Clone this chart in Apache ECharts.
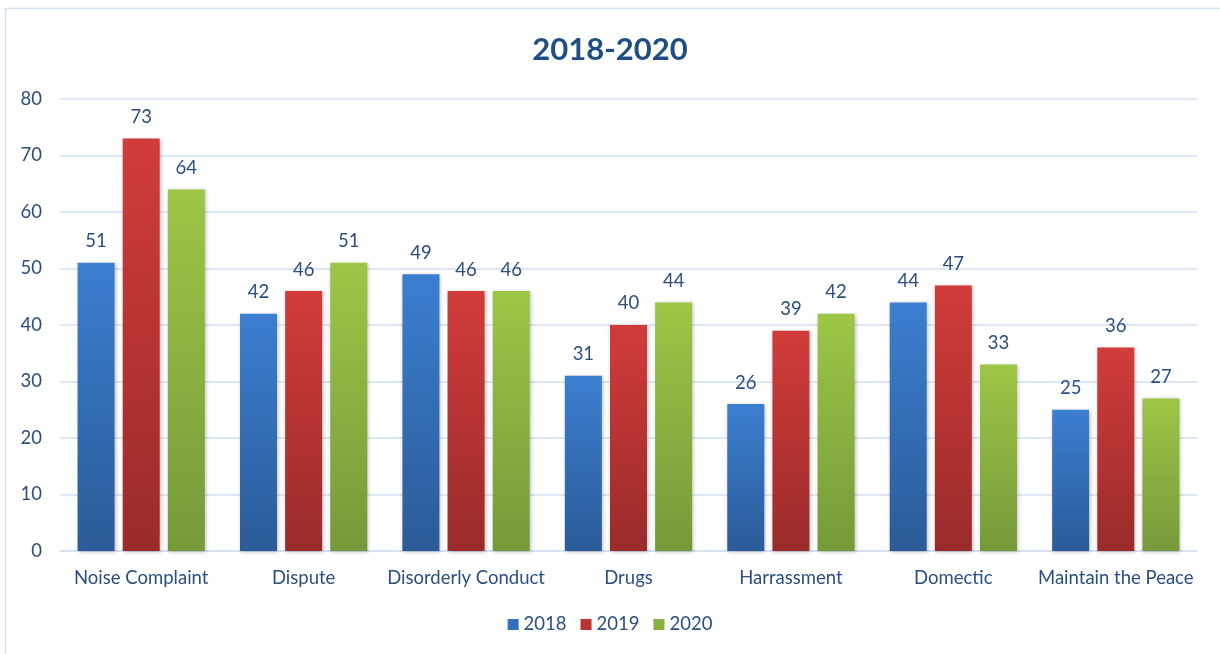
<!DOCTYPE html>
<html>
<head>
<meta charset="utf-8">
<script src="https://cdn.jsdelivr.net/npm/echarts@6/dist/echarts.min.js"></script>
<style>html,body{margin:0;padding:0;background:#fff}#c{width:1220px;height:654px}</style>
</head>
<body>
<div id="c"></div>
<script>
const categories = ["Noise Complaint","Dispute","Disorderly Conduct","Drugs","Harrassment","Domectic","Maintain the Peace"];
const years = ["2018","2019","2020"];
const v2018 = [51,42,49,31,26,44,25];
const v2019 = [73,46,46,40,39,47,36];
const v2020 = [64,51,46,44,42,33,27];
const yTicks = [0,10,20,30,40,50,60,70,80];

const FONT = "Lato, 'Open Sans', sans-serif";
const TXT = '#2a4f80';
function grad(top, bottom){
  return new echarts.graphic.LinearGradient(0,0,0,1,[{offset:0,color:top},{offset:1,color:bottom}]);
}
const fills = [grad('#3b7fd0','#2b5b98'), grad('#d13c3a','#9a2b2b'), grad('#9dc646','#76993a')];
const legendCol = ['#3470bb','#b83534','#8ab03f'];
const data = [v2018,v2019,v2020];

const chart = echarts.init(document.getElementById('c'));
chart.setOption({
  animation:false,
  backgroundColor:'#fff',
  graphic:[{type:'rect',shape:{x:5.5,y:8.5,width:1240,height:700},style:{fill:'none',stroke:'#d3e0f0',lineWidth:1.5},silent:true}],
  title:{text:'2018-2020',left:'center',top:29,textStyle:{fontFamily:FONT,fontSize:31,fontWeight:'bold',color:'#1f4e85'}},
  legend:{bottom:15,left:'center',itemWidth:11,itemHeight:11,itemGap:14,icon:'rect',
    textStyle:{fontFamily:FONT,fontSize:18.5,color:TXT},
    data:years.map((y,i)=>({name:y,itemStyle:{color:legendCol[i]}}))},
  grid:{left:60,right:23,top:99,bottom:103},
  xAxis:{type:'category',data:categories,
    axisLine:{show:true,lineStyle:{color:'#d3e0f0',width:1.5}},axisTick:{show:false},
    axisLabel:{fontFamily:FONT,fontSize:18.5,color:TXT,margin:18,interval:0}},
  yAxis:{type:'value',min:0,max:80,interval:10,
    axisLine:{show:false},axisTick:{show:false},
    splitLine:{lineStyle:{color:'#d3e0f0',width:1.5}},
    axisLabel:{fontFamily:FONT,fontSize:18.5,color:TXT,margin:18,
      formatter:v=>yTicks.includes(v)?String(v):''}},
  series:years.map((y,i)=>({
    name:y,type:'bar',data:data[i],
    barWidth:37,barGap:'22%',
    itemStyle:{color:fills[i],shadowColor:'rgba(0,0,0,0.25)',shadowBlur:4,shadowOffsetX:1,shadowOffsetY:1},
    label:{show:true,position:'top',distance:12,fontFamily:FONT,fontSize:18.5,color:TXT}
  }))
});
</script>
</body>
</html>
